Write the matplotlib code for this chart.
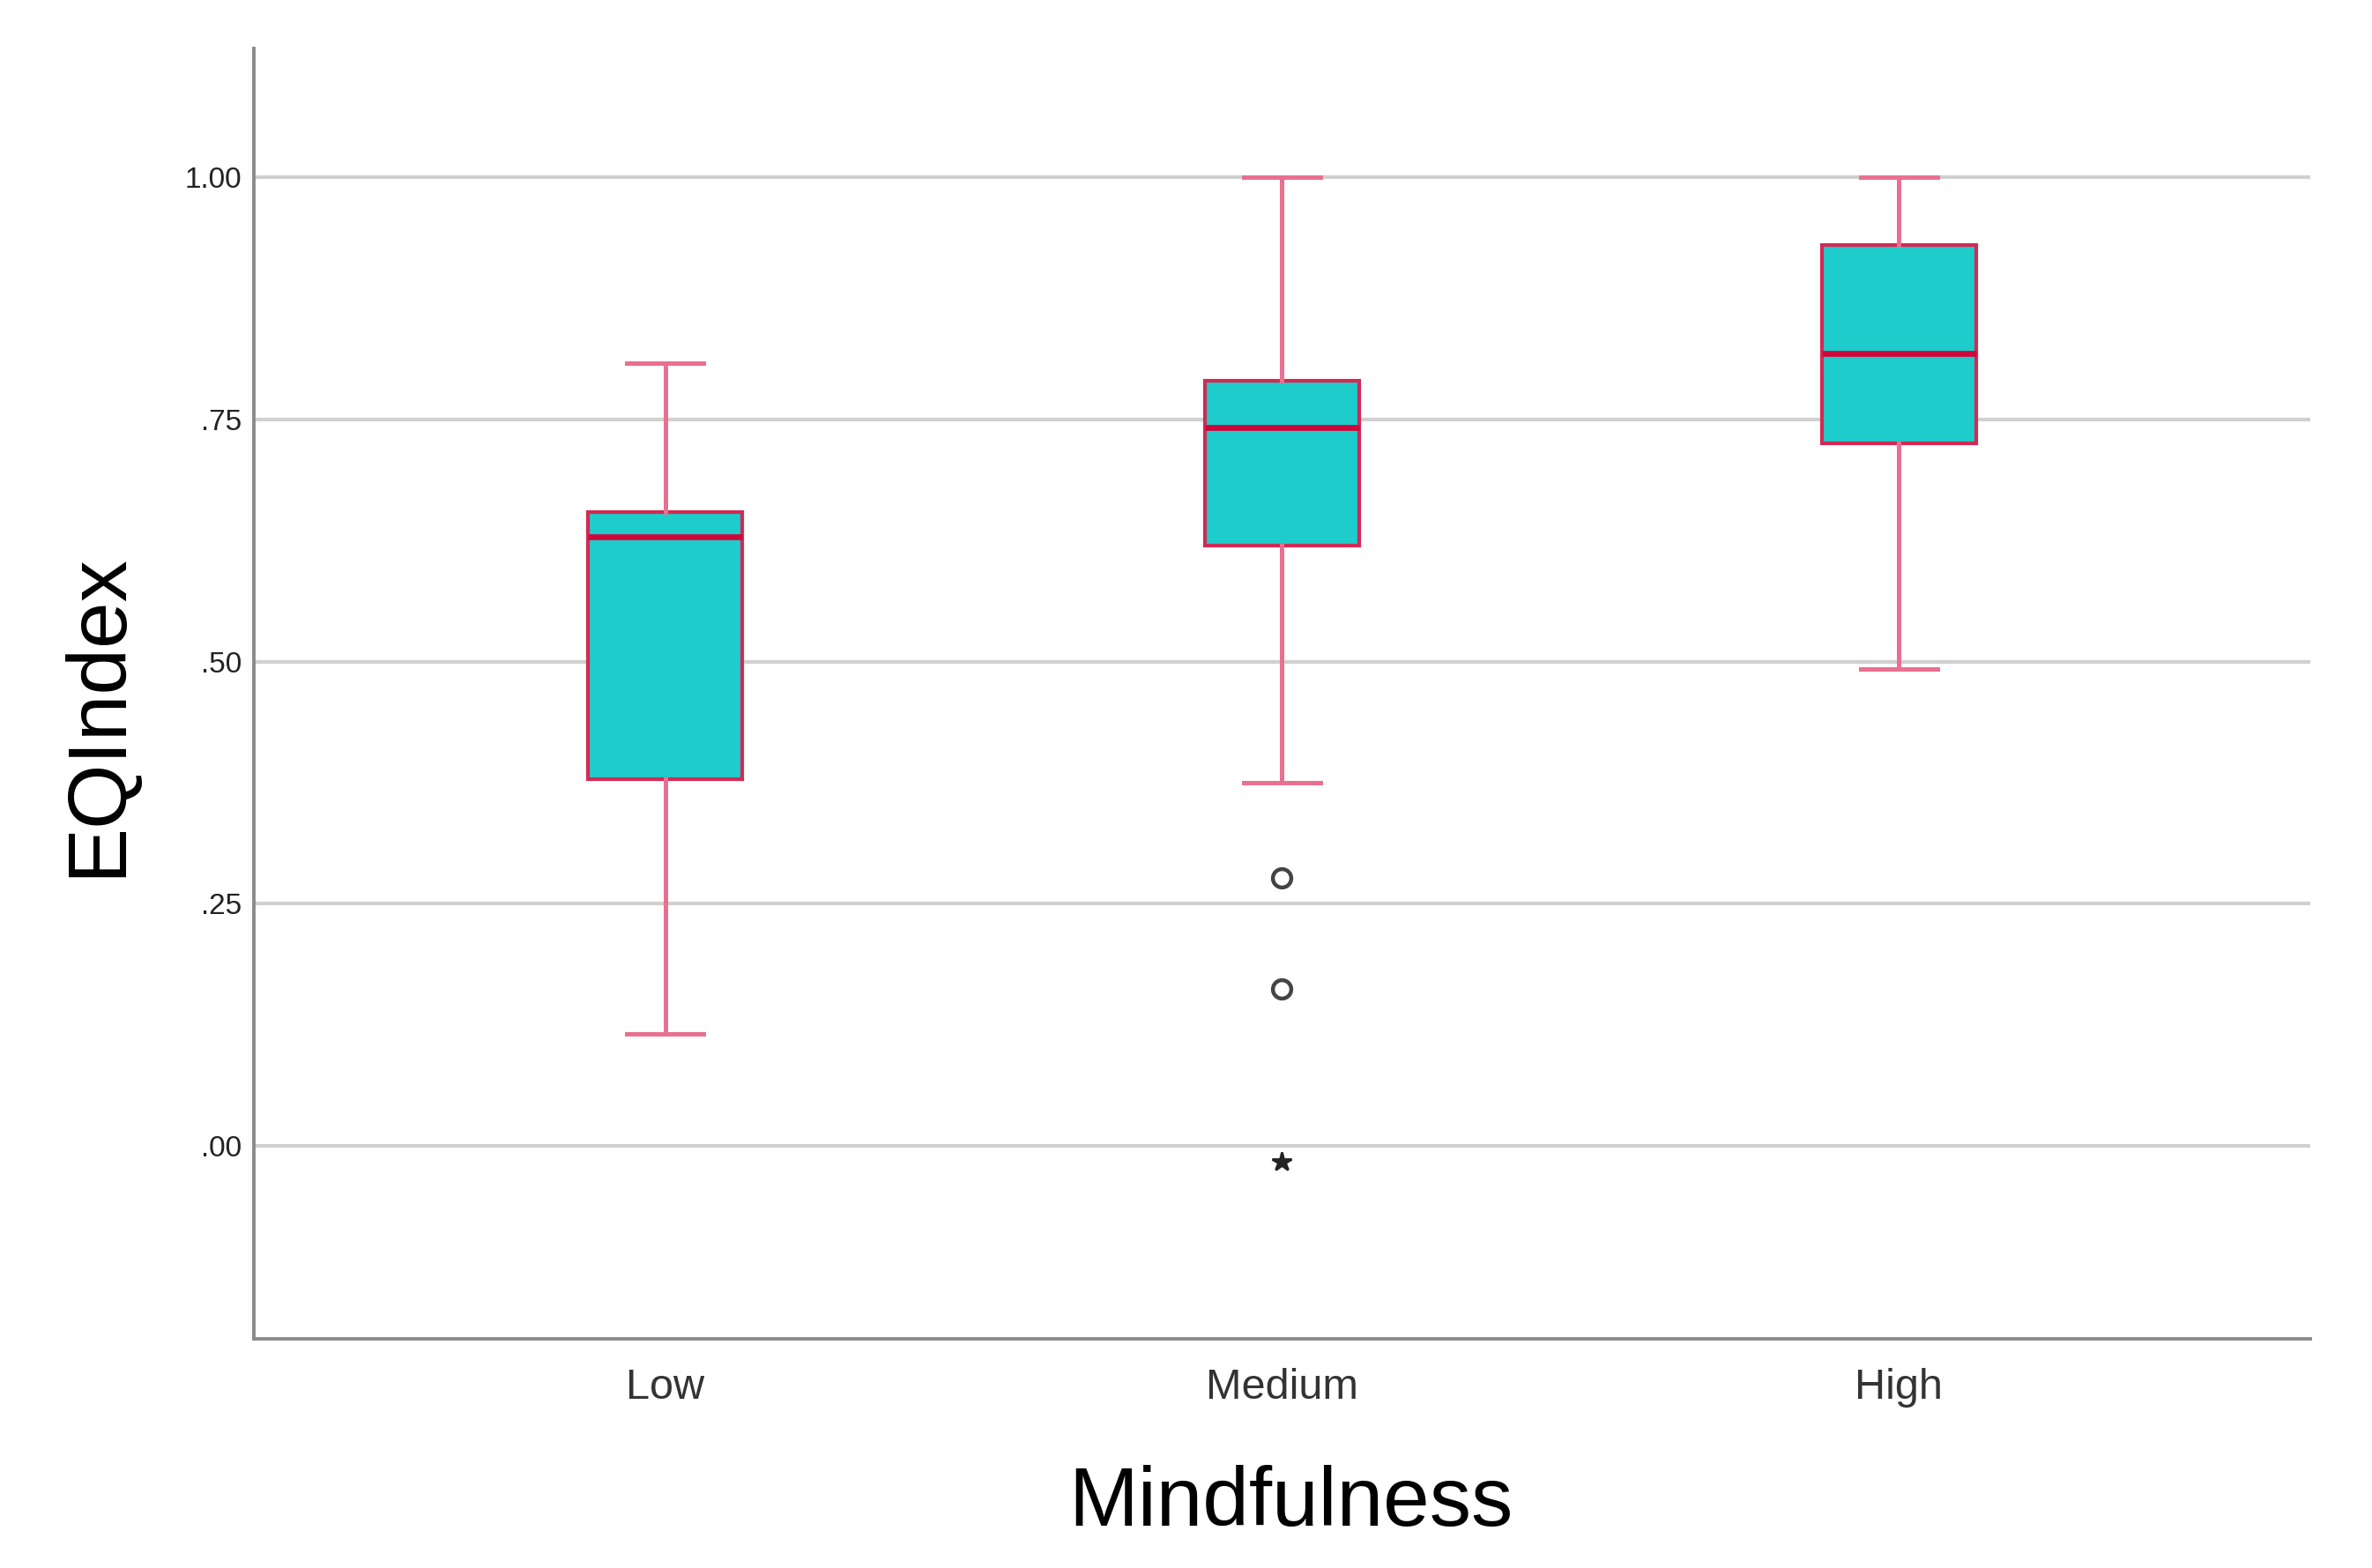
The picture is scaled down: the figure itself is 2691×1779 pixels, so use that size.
import matplotlib
matplotlib.use("Agg")
import matplotlib.pyplot as plt

plt.rcParams["font.family"] = ["Liberation Sans", "DejaVu Sans"]

# values
categories = ["Low", "Medium", "High"]
whisker_low = [0.116, 0.375, 0.492]
q1 = [0.379, 0.620, 0.725]
median = [0.629, 0.742, 0.818]
q3 = [0.654, 0.790, 0.930]
whisker_high = [0.808, 1.000, 1.000]

outlier_cat = ["Medium", "Medium"]
outlier_vals = [0.277, 0.162]
extreme_cat = ["Medium"]
extreme_vals = [-0.016]

y_ticks = [0.0, 0.25, 0.5, 0.75, 1.0]
y_ticklabels = [".00", ".25", ".50", ".75", "1.00"]

box_fill = "#1dcccb"
box_edge = "#d22a55"
whisker_color = "#e9708f"
median_color = "#d0063a"

fig = plt.figure(figsize=(13.455, 8.895), dpi=200)
ax = fig.add_axes([0.107, 0.1462, 0.867, 0.823])

positions = list(range(1, len(categories) + 1))
stats = []
for i, name in enumerate(categories):
    stats.append({
        "label": name,
        "whislo": whisker_low[i],
        "q1": q1[i],
        "med": median[i],
        "q3": q3[i],
        "whishi": whisker_high[i],
        "fliers": [],
    })

ax.bxp(
    stats,
    positions=positions,
    widths=0.25,
    capwidths=0.125,
    patch_artist=True,
    showfliers=False,
    boxprops=dict(facecolor=box_fill, edgecolor=box_edge, linewidth=1.5),
    whiskerprops=dict(color=whisker_color, linewidth=1.8),
    capprops=dict(color=whisker_color, linewidth=1.8),
    medianprops=dict(color=median_color, linewidth=2.4),
    zorder=3,
)

pos_map = {name: p for name, p in zip(categories, positions)}
ax.plot([pos_map[c] for c in outlier_cat], outlier_vals, linestyle="none",
        marker="o", markersize=7.5, markerfacecolor="none",
        markeredgecolor="#444444", markeredgewidth=1.6, zorder=4)
ax.plot([pos_map[c] for c in extreme_cat], extreme_vals, linestyle="none",
        marker="*", markersize=8, color="#222222", zorder=4)

ax.set_xlim(1 - 2 / 3, len(categories) + 2 / 3)
ax.set_ylim(-0.199, 1.133)
ax.set_xticks(positions)
ax.set_xticklabels(categories, fontsize=17.5, color="#333333")
ax.set_yticks(y_ticks)
ax.set_yticklabels(y_ticklabels, fontsize=12, color="#222222")
ax.tick_params(axis="x", length=0, pad=12)
ax.tick_params(axis="y", length=0, pad=5)

ax.set_axisbelow(True)
ax.grid(True, axis="y", color="#d0d0d0", linewidth=1.5)
ax.spines["top"].set_visible(False)
ax.spines["right"].set_visible(False)
for side in ["left", "bottom"]:
    ax.spines[side].set_color("#8a8a8a")
    ax.spines[side].set_linewidth(1.4)

fig.text(0.0416, 0.544, "EQIndex", rotation=90, ha="center", va="center",
         fontsize=34, color="black")
fig.text(0.544, 0.027, "Mindfulness", ha="center", va="baseline",
         fontsize=34, color="black")

fig.savefig("out.png", dpi=200, facecolor="white")
